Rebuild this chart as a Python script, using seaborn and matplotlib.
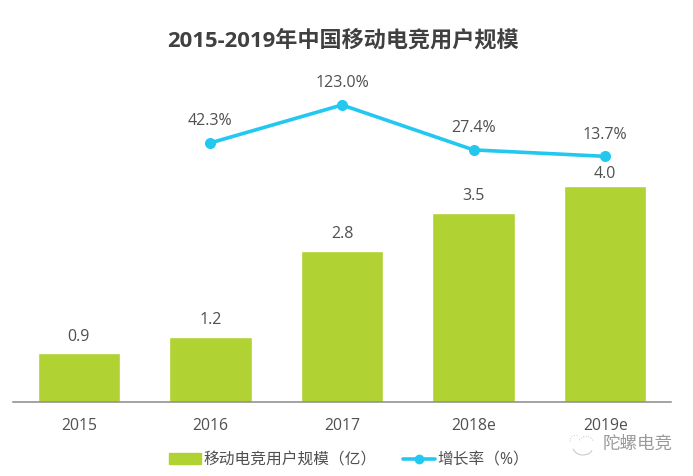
import pandas as pd
import seaborn as sns
import matplotlib.pyplot as plt
from matplotlib.lines import Line2D
from matplotlib.patches import Patch, Arc
from matplotlib.transforms import IdentityTransform

# data
years = ['2015', '2016', '2017', '2018e', '2019e']
users = [0.9, 1.2, 2.8, 3.5, 4.0]
growth = [None, 42.3, 123.0, 27.4, 13.7]
growth_labels = ['', '42.3%', '123.0%', '27.4%', '13.7%']
bar_name = '移动电竞用户规模（亿）'
line_name = '增长率（%）'
title = '2015-2019年中国移动电竞用户规模'
mark = '陀螺电竞'

GREEN = '#b0d232'
BLUE = '#22c8f0'
TEXT = '#505050'
W, H = 693, 476

sns.set_theme(style='white')
plt.rcParams['font.family'] = ['Open Sans', 'Noto Sans CJK SC', 'DejaVu Sans']

df = pd.DataFrame({'year': years, 'users': users, 'growth': growth})
df['growth'] = df['growth'].astype(float)

fig = plt.figure(figsize=(W / 100, H / 100), dpi=100)
ax = fig.add_axes([13 / W, (H - 402) / H, 658 / W, 342 / H])
ax2 = ax.twinx()

sns.barplot(data=df, x='year', y='users', color=GREEN, saturation=1, width=0.625, ax=ax)
sns.pointplot(data=df, x='year', y='growth', color=BLUE, errorbar=None,
              markersize=6, linewidth=2.6, ax=ax2)

ax.set_xlim(-0.5, 4.5)
ax2.set_xlim(-0.5, 4.5)
ax.set_ylim(0, 6.33)
ax2.set_ylim(-509, 218.7)
ax2.set_zorder(ax.get_zorder() + 1)

for a in (ax, ax2):
    a.set_xlabel('')
    a.set_ylabel('')
    a.patch.set_visible(False)
    for s in a.spines.values():
        s.set_visible(False)
ax2.set_yticks([])
ax.set_yticks([])
ax.spines['bottom'].set_visible(True)
ax.spines['bottom'].set_color('#8a8a8a')
ax.spines['bottom'].set_linewidth(1.1)
ax.tick_params(axis='x', length=0, pad=11.5, labelsize=11.3, labelcolor=TEXT)

for i, v in enumerate(users):
    # the last label sits closer to its bar in the original
    off = 8.5 if i == len(users) - 1 else 12
    ax.annotate(f'{v:.1f}', (i, v), xytext=(0, off), textcoords='offset points',
                ha='center', va='center', fontsize=11.5, color=TEXT)
for i, v in enumerate(growth):
    if v is not None:
        ax2.annotate(growth_labels[i], (i, v), xytext=(0, 15.5), textcoords='offset points',
                     ha='center', va='center', fontsize=11.5, color=TEXT)

fig.text(342.5 / W, 1 - 41 / H, title, ha='center', va='center', fontsize=15.9,
         fontweight='bold', color='#404040')

handles = [Patch(color=GREEN, label=bar_name),
           Line2D([], [], color=BLUE, lw=2.6, marker='o', ms=6, label=line_name)]
fig.legend(handles=handles, loc='center', bbox_to_anchor=(349 / W, 1 - 460 / H), ncol=2,
           frameon=False, fontsize=11.3, labelcolor=TEXT, handlelength=2.0,
           handletextpad=0.15, columnspacing=1.72)

# watermark
fig.text(673 / W, 1 - 445 / H, mark, ha='right', va='center', fontsize=12.6, color='#9a9a9a')
px = IdentityTransform()
fig.add_artist(Arc((583, H - 447), 20, 16, theta1=190, theta2=340, color='#c4c4c4', lw=0.7, transform=px))
fig.add_artist(Arc((586, H - 443), 15, 13, theta1=20, theta2=170, color='#c4c4c4', lw=0.7,
                   linestyle=':', transform=px))
fig.add_artist(Arc((575, H - 440), 10, 9, theta1=60, theta2=200, color='#cccccc', lw=0.7,
                   linestyle=':', transform=px))

fig.savefig('out.png', dpi=100)
